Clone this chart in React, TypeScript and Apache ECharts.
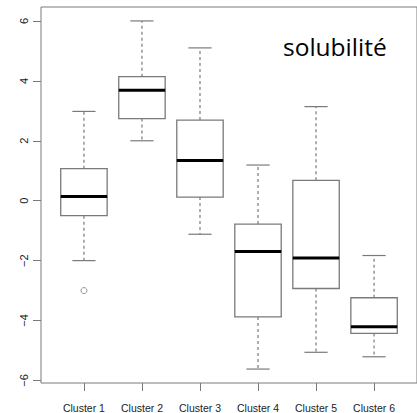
import React, { useEffect, useRef } from "react";
import * as echarts from "echarts";

const categories = ["Cluster 1", "Cluster 2", "Cluster 3", "Cluster 4", "Cluster 5", "Cluster 6"];
const whiskerLow = [-2.0, 2.0, -1.12, -5.62, -5.06, -5.21];
const q1 = [-0.5, 2.74, 0.12, -3.88, -2.93, -4.43];
const median = [0.14, 3.69, 1.34, -1.7, -1.91, -4.21];
const q3 = [1.07, 4.14, 2.69, -0.78, 0.68, -3.24];
const whiskerHigh = [2.98, 6.0, 5.1, 1.19, 3.14, -1.83];
const outliers: number[][] = [[1, -3.0]];
const yTicks = [-6, -4, -2, 0, 2, 4, 6];
const xTicks = [1, 2, 3, 4, 5, 6];
const annotation = "solubilité";

export default function App() {
  const ref = useRef<HTMLDivElement>(null);
  useEffect(() => {
    if (!ref.current) return;
    const chart = echarts.init(ref.current, null, { renderer: "svg" });
    const boxData = categories.map((_, i) => [i + 1, whiskerLow[i], q1[i], median[i], q3[i], whiskerHigh[i]]);
    const gray = "#7a7a7a";
    chart.setOption({
      animation: false,
      backgroundColor: "#ffffff",
      grid: { left: 41, top: 7, width: 379, height: 376.5, show: true, borderColor: gray, borderWidth: 1, backgroundColor: "transparent" },
      xAxis: {
        type: "value",
        min: 0.26,
        max: 6.74,
        axisLine: { show: false, onZero: false },
        splitLine: { show: false },
        axisTick: { show: true, customValues: xTicks, length: 8, lineStyle: { color: gray } },
        axisLabel: {
          customValues: xTicks,
          formatter: (v: number) => categories[Math.round(v) - 1] ?? "",
          fontFamily: "Liberation Sans",
          fontSize: 10.5,
          color: "#222",
          margin: 19,
        },
      },
      yAxis: {
        type: "value",
        min: -6.085,
        max: 6.465,
        axisLine: { show: false, onZero: false },
        splitLine: { show: false },
        axisTick: { show: true, customValues: yTicks, length: 8, lineStyle: { color: gray } },
        axisLabel: {
          customValues: yTicks,
          rotate: 90,
          formatter: (v: number) => String(v).replace("-", "\u2212"),
          fontFamily: "Liberation Sans",
          fontSize: 11,
          color: "#222",
          margin: 12,
        },
      },
      graphic: [
        {
          type: "text",
          x: 283,
          y: 46,
          style: { text: annotation, font: '24.5px "Open Sans"', fill: "#000", verticalAlign: "middle", align: "left" },
        },
      ],
      series: [
        {
          type: "custom",
          data: boxData,
          encode: { x: 0, y: [1, 2, 3, 4, 5] },
          renderItem: (params: any, api: any) => {
            const x = api.value(0);
            const lo = api.value(1);
            const a = api.value(2);
            const m = api.value(3);
            const b = api.value(4);
            const hi = api.value(5);
            const pl = (xx: number, yy: number) => api.coord([xx, yy]);
            const boxL = pl(x - 0.4, b);
            const boxR = pl(x + 0.4, a);
            const c = pl(x, 0)[0];
            const line = (p1: number[], p2: number[], style: any) => ({
              type: "line",
              shape: { x1: p1[0], y1: p1[1], x2: p2[0], y2: p2[1] },
              style,
            });
            const wStyle = { stroke: gray, lineWidth: 1.2, lineDash: [3, 3] };
            const cStyle = { stroke: gray, lineWidth: 1.2 };
            return {
              type: "group",
              children: [
                line([c, pl(x, b)[1]], [c, pl(x, hi)[1]], wStyle),
                line([c, pl(x, a)[1]], [c, pl(x, lo)[1]], wStyle),
                line(pl(x - 0.2, hi), pl(x + 0.2, hi), cStyle),
                line(pl(x - 0.2, lo), pl(x + 0.2, lo), cStyle),
                {
                  type: "rect",
                  shape: { x: boxL[0], y: boxL[1], width: boxR[0] - boxL[0], height: boxR[1] - boxL[1] },
                  style: { fill: "#fff", stroke: gray, lineWidth: 1.3 },
                },
                line(pl(x - 0.4, m), pl(x + 0.4, m), { stroke: "#000", lineWidth: 3 }),
              ],
            };
          },
        },
        {
          type: "scatter",
          data: outliers,
          symbol: "circle",
          symbolSize: 6,
          itemStyle: { color: "transparent", borderColor: gray, borderWidth: 1 },
        },
      ],
    });
    return () => chart.dispose();
  }, []);
  return <div ref={ref} style={{ position: "fixed", left: 0, top: 0, width: 417, height: 413 }} />;
}
